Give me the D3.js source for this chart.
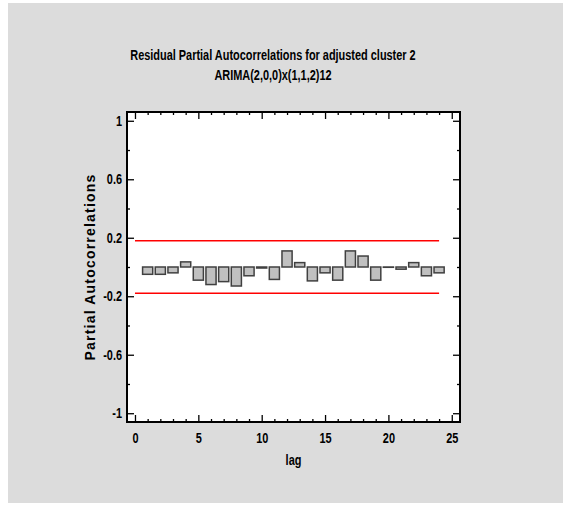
<!DOCTYPE html>
<html>
<head>
<meta charset="utf-8">
<script src="https://cdn.jsdelivr.net/npm/d3@7"></script>
<style>
  body { margin: 0; background: #fff; }
  svg { display: block; }
</style>
</head>
<body>
<svg class="chart" width="563" height="525"></svg>
<script>
// data
const lags = d3.range(1, 25);
const pacf = [-0.05, -0.05, -0.04, 0.035, -0.09, -0.12, -0.10, -0.13, -0.06, -0.007,
	-0.085, 0.11, 0.03, -0.095, -0.04, -0.09, 0.11, 0.075, -0.09, 0.0,
	-0.015, 0.03, -0.06, -0.04];
const limit = 0.18;
const yTicks = [1, 0.6, 0.2, -0.2, -0.6, -1];
const xTicks = [0, 5, 10, 15, 20, 25];

const titleLines = ["Residual Partial Autocorrelations for adjusted cluster 2", "ARIMA(2,0,0)x(1,1,2)12"];

let svg = d3.select(".chart"),
	margin = {top: 112, left: 127, right: 103, bottom: 103},
	width = svg.attr("width") - margin.left - margin.right,
	height = svg.attr("height") - margin.top - margin.bottom;

let font = "'Liberation Sans', Arial, sans-serif";

//no narrow font here, so squeeze the text a bit
function condense(sel) {
	sel.each(function() {
		let w = this.getComputedTextLength();
		d3.select(this).attr("textLength", w * 0.78).attr("lengthAdjust", "spacingAndGlyphs");
	});
}

//background panel
svg.append("rect")
	.attr("x", 8).attr("y", 3)
	.attr("width", 555).attr("height", 500)
	.style("fill", "#dcdcdc");

//title
svg.append("g").selectAll("text")
	.data(titleLines)
	.enter().append("text")
	.attr("x", 273)
	.attr("y", function(d, i) { return 60 + i * 20; })
	.attr("text-anchor", "middle")
	.style("font", "bold 14px " + font)
	.text(function(d) { return d; })
	.call(condense);

let g = svg.append("g").attr("transform", "translate(" + margin.left + "," + margin.top + ")");

let x = d3.scaleLinear().domain([-0.63, 25.65]).range([0, width]),
	y = d3.scaleLinear().domain([-1.06, 1.06]).range([height, 0]);

g.append("rect")
	.attr("width", width).attr("height", height)
	.style("fill", "#fff");

//limit lines
g.selectAll(".limit")
	.data([limit, -limit])
	.enter().append("line")
	.attr("class", "limit")
	.attr("x1", x(0)).attr("x2", x(24))
	.attr("y1", function(d) { return y(d); })
	.attr("y2", function(d) { return y(d); })
	.style("stroke", "#ff0000")
	.style("stroke-width", 1.5);

//bars (a zero bar still shows as a flat line)
let bw = x(0.8) - x(0);
g.selectAll(".bar")
	.data(pacf)
	.enter().append("rect")
	.attr("class", "bar")
	.attr("x", function(d, i) { return x(lags[i]) - bw / 2; })
	.attr("y", function(d) { return y(Math.max(d, 0)); })
	.attr("width", bw)
	.attr("height", function(d) { return Math.max(Math.abs(y(d) - y(0)), 0.3); })
	.style("fill", "#c0c0c0")
	.style("stroke", "#404040")
	.style("stroke-width", 1.5);

//axes, ticks point inward on all four sides
function styleAxis(sel) {
	sel.select(".domain").remove();
	sel.selectAll("line").style("stroke", "#000").style("stroke-width", 1.3);
	sel.selectAll("text").style("font", "bold 14px " + font).style("fill", "#000").call(condense);
}

let yMinor = d3.range(-1, 1.01, 0.2).map(function(v) { return +v.toFixed(1); })
	.filter(function(v) { return yTicks.indexOf(v) < 0; });
let xMinor = d3.range(0, 26).filter(function(v) { return v % 5 !== 0; });

g.append("g").call(d3.axisLeft(y).tickValues(yTicks).tickSize(-7).tickPadding(5)
	.tickFormat(function(d) { return d; })).call(styleAxis);
g.append("g").call(d3.axisLeft(y).tickValues(yMinor).tickSize(-3).tickFormat("")).call(styleAxis);
g.append("g").attr("transform", "translate(" + width + ",0)")
	.call(d3.axisRight(y).tickValues(yTicks).tickSize(-7).tickFormat("")).call(styleAxis);
g.append("g").attr("transform", "translate(" + width + ",0)")
	.call(d3.axisRight(y).tickValues(yMinor).tickSize(-3).tickFormat("")).call(styleAxis);

g.append("g").attr("transform", "translate(0," + height + ")")
	.call(d3.axisBottom(x).tickValues(xTicks).tickSize(-7).tickPadding(11)).call(styleAxis);
g.append("g").attr("transform", "translate(0," + height + ")")
	.call(d3.axisBottom(x).tickValues(xMinor).tickSize(-3).tickFormat("")).call(styleAxis);
g.append("g").call(d3.axisTop(x).tickValues(xTicks).tickSize(-7).tickFormat("")).call(styleAxis);
g.append("g").call(d3.axisTop(x).tickValues(xMinor).tickSize(-3).tickFormat("")).call(styleAxis);

//frame
g.append("rect")
	.attr("width", width).attr("height", height)
	.style("fill", "none")
	.style("stroke", "#000")
	.style("stroke-width", 2);

//axis titles
svg.append("text")
	.attr("x", margin.left + width / 2)
	.attr("y", 465)
	.attr("text-anchor", "middle")
	.style("font", "bold 14px " + font)
	.text("lag")
	.call(condense);

svg.append("text")
	.attr("transform", "translate(95," + (margin.top + height / 2) + ") rotate(-90)")
	.attr("text-anchor", "middle")
	.style("font", "bold 14px " + font)
	.style("letter-spacing", "1.2px")
	.text("Partial Autocorrelations");
</script>
</body>
</html>
